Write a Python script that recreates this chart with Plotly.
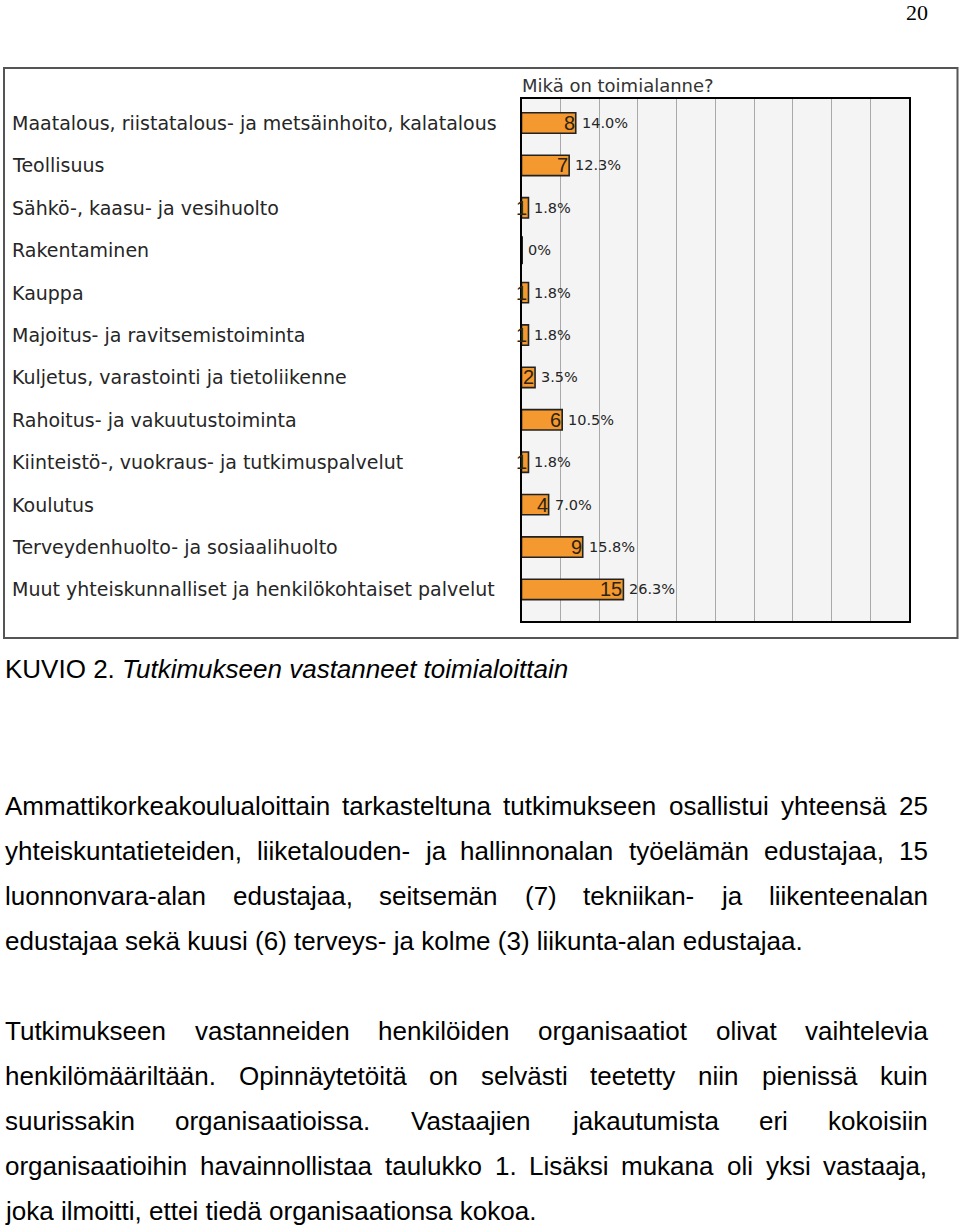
import plotly.graph_objects as go

W, H = 960, 1227

# ---------------- data ----------------
categories = [
    "Maatalous, riistatalous- ja metsäinhoito, kalatalous",
    "Teollisuus",
    "Sähkö-, kaasu- ja vesihuolto",
    "Rakentaminen",
    "Kauppa",
    "Majoitus- ja ravitsemistoiminta",
    "Kuljetus, varastointi ja tietoliikenne",
    "Rahoitus- ja vakuutustoiminta",
    "Kiinteistö-, vuokraus- ja tutkimuspalvelut",
    "Koulutus",
    "Terveydenhuolto- ja sosiaalihuolto",
    "Muut yhteiskunnalliset ja henkilökohtaiset palvelut",
]
counts = [8, 7, 1, 0, 1, 1, 2, 6, 1, 4, 9, 15]
percents = [14.0, 12.3, 1.8, 0, 1.8, 1.8, 3.5, 10.5, 1.8, 7.0, 15.8, 26.3]

chart_title = "Mikä on toimialanne?"
page_number = "20"
caption_label = "KUVIO 2."
caption_text = "Tutkimukseen vastanneet toimialoittain"

paragraph1 = [
    ("Ammattikorkeakoulualoittain tarkasteltuna tutkimukseen osallistui yhteensä 25", True),
    ("yhteiskuntatieteiden, liiketalouden- ja hallinnonalan työelämän edustajaa, 15", True),
    ("luonnonvara-alan edustajaa, seitsemän (7) tekniikan- ja liikenteenalan", True),
    ("edustajaa sekä kuusi (6) terveys- ja kolme (3) liikunta-alan edustajaa.", False),
]
paragraph2 = [
    ("Tutkimukseen vastanneiden henkilöiden organisaatiot olivat vaihtelevia", True),
    ("henkilömääriltään. Opinnäytetöitä on selvästi teetetty niin pienissä kuin", True),
    ("suurissakin organisaatioissa. Vastaajien jakautumista eri kokoisiin", True),
    ("organisaatioihin havainnollistaa taulukko 1. Lisäksi mukana oli yksi vastaaja,", True),
    ("joka ilmoitti, ettei tiedä organisaationsa kokoa.", False),
]

# ---------------- helpers ----------------
def px(x):
    return x / W

def py(y):
    return 1 - y / H

ARIAL = {
    'a': 556, 'b': 556, 'c': 500, 'd': 556, 'e': 556, 'f': 278, 'g': 556, 'h': 556,
    'i': 222, 'j': 222, 'k': 500, 'l': 222, 'm': 833, 'n': 556, 'o': 556, 'p': 556,
    'q': 556, 'r': 333, 's': 500, 't': 278, 'u': 556, 'v': 500, 'w': 722, 'x': 500,
    'y': 500, 'z': 500, 'ä': 556, 'ö': 556,
    'A': 667, 'K': 667, 'L': 556, 'O': 778, 'T': 611, 'U': 722, 'V': 667, 'I': 278,
    'S': 667, 'M': 833,
    '0': 556, '1': 556, '2': 556, '3': 556, '4': 556, '5': 556, '6': 556, '7': 556,
    '8': 556, '9': 556, ',': 278, '.': 278, '-': 333, '(': 333, ')': 333, ' ': 278,
}

def text_width(s, size):
    return sum(ARIAL.get(c, 556) for c in s) * size / 1000.0

BODY_SIZE = 26
BODY_FONT = dict(family="Liberation Sans, Arial, sans-serif", size=BODY_SIZE, color="#000000")
LEFT, RIGHT = 5, 927.5

annotations = []

def add_text(text, x, baseline, font, xanchor="left"):
    annotations.append(dict(
        text=text, x=px(x), y=py(baseline - 0.35 * font["size"]),
        xref="paper", yref="paper", xanchor=xanchor, yanchor="middle",
        showarrow=False, font=font, borderpad=0, borderwidth=0,
    ))

def add_paragraph(lines, first_baseline, pitch):
    for i, (line, justify) in enumerate(lines):
        base = first_baseline + i * pitch
        if not justify:
            add_text(line, LEFT, base, BODY_FONT)
            continue
        words = line.split(" ")
        widths = [text_width(w, BODY_SIZE) for w in words]
        gap = (RIGHT - LEFT - sum(widths)) / (len(words) - 1)
        x = LEFT
        for w, wd in zip(words, widths):
            add_text(w, x, base, BODY_FONT)
            x += wd + gap

# page number
add_text(page_number, 928, 20, dict(family="Liberation Serif, Times New Roman, serif", size=22, color="#000"),
         xanchor="right")

# caption
add_text(caption_label + " <i>" + caption_text + "</i>", LEFT, 678, BODY_FONT)

add_paragraph(paragraph1, 815, 45)
add_paragraph(paragraph2, 1040, 45)

# ---------------- chart ----------------
CHART_FONT = "DejaVu Sans, Verdana, sans-serif"
BAR_COLOR = "#F3992F"
EDGE = "#222222"

fig = go.Figure()
fig.add_trace(go.Bar(
    x=percents, y=categories, orientation="h",
    marker=dict(color=BAR_COLOR, line=dict(color=EDGE, width=1.6)),
    width=0.48, hoverinfo="skip",
))

# zero-valued bars are drawn as a thin outlined sliver, as in the original
zero_cats = [c for c, p in zip(categories, percents) if p == 0]
zero_vals = [p for p in percents if p == 0]
fig.add_trace(go.Scatter(
    x=zero_vals, y=zero_cats, mode="markers",
    marker=dict(symbol="line-ns", size=20, color=EDGE, line=dict(color=EDGE, width=3)),
    xaxis="x", yaxis="y", hoverinfo="skip", cliponaxis=False,
))

# category labels
for cat in categories:
    annotations.append(dict(
        text=cat, x=px(12), y=cat, xref="paper", yref="y",
        xanchor="left", yanchor="middle", showarrow=False,
        font=dict(family=CHART_FONT, size=19, color="#262626"),
        borderpad=0, borderwidth=0,
    ))

# count labels (inside bar end) and percent labels (outside)
for cat, c, p in zip(categories, counts, percents):
    if c > 0:
        annotations.append(dict(
            text=str(c), x=p, y=cat, xref="x", yref="y",
            xanchor="right", yanchor="middle", showarrow=False, xshift=-1,
            font=dict(family="Liberation Sans, Arial, sans-serif", size=20, color="#2e2210"),
            borderpad=0, borderwidth=0,
        ))
    annotations.append(dict(
        text=(f"{p:.1f}%" if p > 0 else "0%"), x=p, y=cat, xref="x", yref="y",
        xanchor="left", yanchor="middle", showarrow=False, xshift=6,
        font=dict(family=CHART_FONT, size=14.5, color="#262626"),
        borderpad=0, borderwidth=0,
    ))

# chart title
annotations.append(dict(
    text=chart_title, x=px(522), y=py(86), xref="paper", yref="paper",
    xanchor="left", yanchor="middle", showarrow=False,
    font=dict(family=CHART_FONT, size=18, color="#333333"),
    borderpad=0, borderwidth=0,
))

fig.update_layout(
    width=W, height=H,
    margin=dict(l=0, r=0, t=0, b=0),
    paper_bgcolor="#ffffff",
    plot_bgcolor="#f4f4f4",
    showlegend=False,
    bargap=0,
    xaxis=dict(
        domain=[px(521.5), px(909)], range=[0, 100], dtick=10,
        showgrid=True, gridcolor="#a9a9a9", gridwidth=1,
        showticklabels=False, ticks="", zeroline=False,
        showline=True, mirror=True, linecolor="#000000", linewidth=2,
        fixedrange=True,
    ),
    yaxis=dict(
        domain=[py(621), py(99)], type="category",
        range=[11.745, -0.566],
        showgrid=False, showticklabels=False, ticks="", zeroline=False,
        showline=True, mirror=True, linecolor="#000000", linewidth=2,
        fixedrange=True,
    ),
    annotations=annotations,
    shapes=[dict(
        type="rect", xref="paper", yref="paper",
        x0=px(4), x1=px(957.5), y0=py(638), y1=py(68),
        line=dict(color="#555555", width=2), layer="below",
    )],
)

fig.write_html(
    "out.html",
    config={"displayModeBar": False, "staticPlot": True},
    post_script="document.body.style.margin='0';document.body.style.padding='0';",
)
